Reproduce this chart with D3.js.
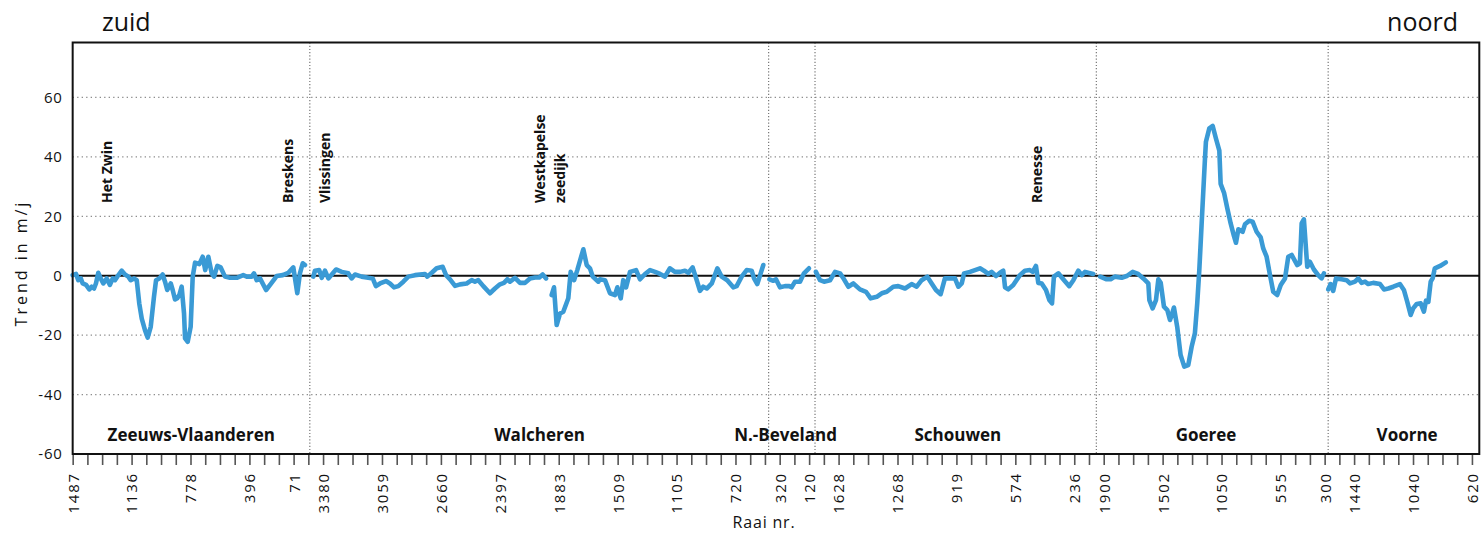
<!DOCTYPE html>
<html><head><meta charset="utf-8">
<script src="https://cdn.jsdelivr.net/npm/d3@7"></script>
<style>body{margin:0;background:#fff} svg{display:block}</style>
</head><body><svg id="c" width="1481" height="534"></svg>
<script>
// ---- axis definitions ----
const tickIndex  = [0,4,8,12,15,17,21,25,29,33,37,41,45,48,50,52,56,60,64,68,70,74,78,82,85,87,91,95];
const tickLabels = ["1487","1136","778","396","71","3380","3059","2660","2397","1883","1509","1105","720","320","120","1628","1268","919","574","236","1900","1502","1050","555","300","1440","1040","620"];
const yTicks = [-60,-40,-20,0,20,40,60];
const gridValues = [60,40,20,-20,-40];
const regionBounds = [16.1,47.25,50.4,69.5,85.24];
const regionNames = ["Zeeuws-Vlaanderen","Walcheren","N.-Beveland","Schouwen","Goeree","Voorne"];
const regionLabelPos = [8.05,31.7,48.4,60.1,76.95,90.6];
const placeNames = ["Het Zwin","Breskens","Vlissingen","Westkapelse","zeedijk","Renesse"];
const placePos = [2.33,14.62,17.13,31.72,33.08,65.44];

// ---- data: position (raai index along coast) and trend (m/j) ----
const posZV = [0,0.23,0.38,0.55,0.68,0.91,1.13,1.29,1.45,1.58,1.74,1.90,2.08,2.31,2.53,2.72,2.87,3.03,3.33,3.55,3.78,3.94,4.16,4.35,4.52,4.69,4.91,5.09,5.30,5.52,5.66,5.88,6.11,6.27,6.42,6.66,6.79,6.95,7.10,7.24,7.40,7.56,7.63,7.81,8.01,8.15,8.31,8.60,8.83,9.00,9.21,9.44,9.60,9.82,10.05,10.34,10.68,11.14,11.58,11.82,12.15,12.31,12.49,12.72,13.13,13.44,13.85,14.26,14.64,14.98,15.25,15.43,15.62,15.77];
const trendZV = [0.2,0.6,-1.5,-0.9,-2.6,-3.1,-4.6,-3.7,-4.3,-2.6,1.0,-0.9,-2.6,-0.9,-3.1,-0.9,-1.5,-0.3,1.7,0.4,-0.3,-1.5,-0.9,-1.5,-9.3,-14.4,-18.3,-20.8,-17.2,-7.1,-1.5,-0.9,0.4,-2.0,-4.8,-2.6,-4.8,-8.0,-7.6,-6.5,-3.7,-12.7,-21.1,-22.2,-17.2,-0.3,4.4,3.9,6.4,1.9,6.4,0.8,-0.3,3.3,2.8,-0.3,-0.7,-0.7,0.2,-0.3,-0.3,0.8,-1.5,-0.9,-4.8,-2.8,-0.1,0.2,1.0,2.8,-5.9,0.8,4.2,3.6];

const posWa1 = [16.34,16.45,16.74,16.91,17.13,17.36,17.88,18.27,18.71,18.94,19.17,19.62,20.07,20.37,20.59,20.87,21.27,21.54,21.82,22.11,22.45,22.79,23.24,23.92,24.08,24.38,24.71,25.12,25.35,25.62,25.96,26.30,26.75,27.09,27.31,27.54,27.88,28.33,28.67,29.01,29.28,29.51,29.69,30.03,30.37,30.71,31.05,31.39,31.68,31.91,32.14];
const trendWa1 = [-0.3,1.7,1.9,-0.7,1.7,-0.9,2.1,1.3,0.8,-0.9,0.4,-0.3,-0.7,-0.9,-3.5,-2.6,-1.8,-2.6,-3.9,-3.5,-2.0,-0.3,0.2,0.6,-0.3,1.0,2.5,3.0,0.2,-1.2,-3.4,-2.9,-2.6,-1.5,-2.0,-1.5,-3.5,-5.9,-4.3,-2.9,-2.4,-1.2,-2.0,-0.7,-2.4,-2.4,-0.9,-0.6,-0.6,0.4,-0.9];

const posWa2 = [32.52,32.68,32.86,33.09,33.31,33.65,33.81,34.04,34.26,34.67,34.90,35.12,35.31,35.69,35.80,36.14,36.48,36.82,36.98,37.21,37.38,37.57,37.84,38.25,38.52,38.86,39.20,39.54,39.88,40.21,40.55,40.89,41.23,41.57,41.80,42.09,42.37,42.59,42.81,43.05,43.39,43.77,44.06,44.44,44.85,45.08,45.42,45.76,46.10,46.26,46.48,46.71,46.89];
const trendWa2 = [-6.5,-3.9,-16.6,-12.7,-12.1,-7.6,1.3,-1.5,1.9,8.9,3.6,2.5,-0.3,-2.0,-1.2,-1.5,-5.9,-6.5,-3.9,-7.6,-1.5,-3.9,1.3,1.9,-1.2,0.6,1.9,1.3,0.6,-0.3,2.5,1.3,1.3,1.7,1.0,2.8,-1.5,-5.1,-3.7,-4.3,-2.6,2.5,-0.3,-1.5,-3.9,-3.5,-0.3,1.9,1.7,-0.9,-2.8,0.8,3.6];

const posNB = [47.30,47.57,47.75,48.02,48.36,48.65,48.81,49.04,49.38,49.65,49.99];
const trendNB = [-1.2,-1.7,-1.2,-3.9,-3.5,-3.5,-3.9,-2.0,-2.0,0.8,2.5];

const posSc = [50.46,50.74,51.01,51.42,51.76,52.10,52.37,52.66,53.00,53.45,53.86,54.18,54.59,54.93,55.27,55.71,56.05,56.51,56.96,57.30,57.64,58.02,58.32,58.61,58.93,59.22,59.56,59.90,60.13,60.36,60.52,60.92,61.26,61.60,61.87,62.16,62.39,62.69,62.96,63.18,63.30,63.52,63.86,64.31,64.65,64.99,65.18,65.40,65.56,65.79,66.08,66.31,66.49,66.62,66.92,67.21,67.66,67.94,68.28,68.51,68.73,68.95,69.29];
const trendSc = [1.3,-1.5,-2.0,-1.5,1.3,0.8,-1.2,-3.7,-2.6,-4.6,-5.4,-7.6,-7.1,-5.9,-5.4,-3.7,-3.5,-4.3,-2.8,-3.7,-1.5,-0.3,-2.6,-4.8,-6.2,-0.9,-0.9,-0.9,-3.7,-2.6,0.8,1.3,1.9,2.5,1.7,0.6,1.3,-0.1,1.0,1.7,-3.9,-4.6,-3.1,0.2,1.7,1.9,1.3,3.3,-2.4,-2.6,-4.8,-8.2,-9.3,-0.3,0.8,-0.9,-3.5,-1.5,1.7,0.2,1.3,1.0,0.6];

const posGo = [69.76,70.20,70.47,70.76,71.22,71.56,71.97,72.34,72.69,73.03,73.10,73.32,73.55,73.71,73.87,74.09,74.32,74.50,74.62,74.77,74.99,75.22,75.47,75.74,75.97,76.19,76.35,76.49,76.65,76.87,76.94,77.17,77.40,77.62,77.85,77.94,78.17,78.39,78.62,78.84,78.98,79.14,79.43,79.59,79.88,80.11,80.38,80.66,80.83,81.06,81.29,81.51,81.78,82.02,82.31,82.53,82.76,83.14,83.32,83.44,83.59,83.82,84.00,84.27,84.56,84.79,84.95];
const trendGo = [-0.3,-1.2,-1.2,-0.3,-0.7,-0.1,1.3,0.6,-0.9,-2.6,-8.2,-11,-8.2,-1.2,-2.4,-10.4,-11.6,-14.9,-13.2,-10.7,-17.2,-26.7,-30.6,-30.1,-23.9,-19.4,-9.3,1.9,17.6,38.9,45.1,49.6,50.4,46.2,42.1,30.9,27.9,22.7,17.6,13.4,11.1,15.6,14.8,17.3,18.5,18.2,14.8,12.9,9.2,6.4,0.2,-5.4,-6.5,-3.1,-0.9,6.4,7.0,3.6,4.2,17.6,19.0,3.0,4.7,2.1,0.2,-0.9,0.8];

const posVo = [85.24,85.41,85.58,85.77,86.15,86.49,86.72,87.06,87.28,87.51,87.74,87.96,88.30,88.76,89.03,89.32,89.66,90.11,90.38,90.61,90.84,91.01,91.25,91.52,91.74,91.88,92.04,92.20,92.33,92.48,92.84,93.23];
const trendVo = [-4.6,-2.8,-5.1,-0.9,-1.2,-1.5,-2.6,-2.0,-0.9,-2.4,-2.0,-2.8,-2.4,-2.8,-4.6,-4.3,-3.7,-2.8,-4.8,-8.8,-13.2,-11,-9.5,-9.3,-12.1,-8.4,-8.8,-2.0,-0.9,2.5,3.3,4.5];

const segments = [[posZV,trendZV],[posWa1,trendWa1],[posWa2,trendWa2],[posNB,trendNB],[posSc,trendSc],[posGo,trendGo],[posVo,trendVo]]
  .map(([p,t]) => p.map((d,i) => ({x:d, y:t[i]})));

// ---- drawing ----
const svg = d3.select("#c");
const x = d3.scaleLinear().domain([0,95.5]).range([72.67,1479.3]);
const y = d3.scaleLinear().domain([-60,78.5]).range([454,42.5]);
const FONT = "'Open Sans', 'Noto Sans', sans-serif";
const ink = "#111";

// gridlines
svg.append("g").selectAll("line").data(gridValues).join("line")
  .attr("x1", x(0)).attr("x2", x(95.5))
  .attr("y1", d => y(d)).attr("y2", d => y(d))
  .attr("stroke", "#8a8a8a").attr("stroke-width", 1.3).attr("stroke-dasharray", "1.3,3.2");

svg.append("g").selectAll("line").data(regionBounds).join("line")
  .attr("x1", d => x(d)).attr("x2", d => x(d))
  .attr("y1", y(78.5)).attr("y2", y(-60))
  .attr("stroke", "#777").attr("stroke-width", 1.2).attr("stroke-dasharray", "1.2,2");

// zero line
svg.append("line").attr("x1", x(0)).attr("x2", x(95.5)).attr("y1", y(0)).attr("y2", y(0))
  .attr("stroke", ink).attr("stroke-width", 2);

// data line
const line = d3.line().x(d => x(d.x)).y(d => y(d.y));
svg.append("g").selectAll("path").data(segments).join("path")
  .attr("d", line).attr("fill", "none").attr("stroke", "#3a9ad5")
  .attr("stroke-width", 4.6).attr("stroke-linejoin", "round").attr("stroke-linecap", "round");

// frame
svg.append("rect").attr("x", x(0)).attr("y", y(78.5))
  .attr("width", x(95.5) - x(0)).attr("height", y(-60) - y(78.5))
  .attr("fill", "none").attr("stroke", ink).attr("stroke-width", 2);

// x axis
const labelMap = new Map(tickIndex.map((d,i) => [d, tickLabels[i]]));
const xAxis = svg.append("g").attr("transform", `translate(0,${y(-60)+1})`)
  .call(d3.axisBottom(x).tickValues(d3.range(0,96)).tickSize(10).tickPadding(4)
    .tickFormat(d => labelMap.get(d) || ""));
xAxis.select(".domain").remove();
xAxis.selectAll(".tick line").attr("stroke", "#555").attr("stroke-width", 1.6);
xAxis.selectAll(".tick text")
  .attr("transform", "rotate(-90)").attr("text-anchor", "end")
  .attr("x", -17).attr("y", 0).attr("dy", "0.36em")
  .attr("font-family", FONT).attr("font-size", 15).attr("letter-spacing", 1.8).attr("fill", ink);

// y axis
const yAxis = svg.append("g").attr("transform", `translate(${x(0)},0)`)
  .call(d3.axisLeft(y).tickValues(yTicks).tickSize(0).tickPadding(10).tickFormat(d => String(d)));
yAxis.select(".domain").remove();
yAxis.selectAll(".tick text").attr("font-family", FONT).attr("font-size", 15)
  .attr("letter-spacing", 0.8).attr("fill", ink);

// axis titles
svg.append("text").attr("x", 764).attr("y", 528).attr("text-anchor", "middle")
  .attr("font-family", FONT).attr("font-size", 16).attr("letter-spacing", 0.8).attr("fill", ink).text("Raai nr.");
svg.append("text").attr("transform", "translate(27,263) rotate(-90)").attr("text-anchor", "middle")
  .attr("font-family", FONT).attr("font-size", 16).attr("letter-spacing", 3).attr("fill", ink).text("Trend in m/j");

// zuid / noord
svg.append("text").attr("x", 102).attr("y", 31).attr("font-family", FONT).attr("font-size", 25)
  .attr("fill", ink).text("zuid");
svg.append("text").attr("x", 1458).attr("y", 31).attr("text-anchor", "end").attr("font-family", FONT)
  .attr("font-size", 25).attr("fill", ink).text("noord");

// region labels
svg.append("g").selectAll("text").data(regionNames).join("text")
  .attr("x", (d,i) => x(regionLabelPos[i])).attr("y", 441).attr("text-anchor", "middle")
  .attr("font-family", FONT).attr("font-weight", 700).attr("font-size", 17).attr("fill", ink).text(d => d);

// place labels (vertical)
svg.append("g").selectAll("text").data(placeNames).join("text")
  .attr("transform", (d,i) => `translate(${x(placePos[i])},203) rotate(-90)`)
  .attr("dy", "0.36em").attr("font-family", FONT).attr("font-weight", 700).attr("font-size", 14)
  .attr("fill", ink).text(d => d);
</script></body></html>
